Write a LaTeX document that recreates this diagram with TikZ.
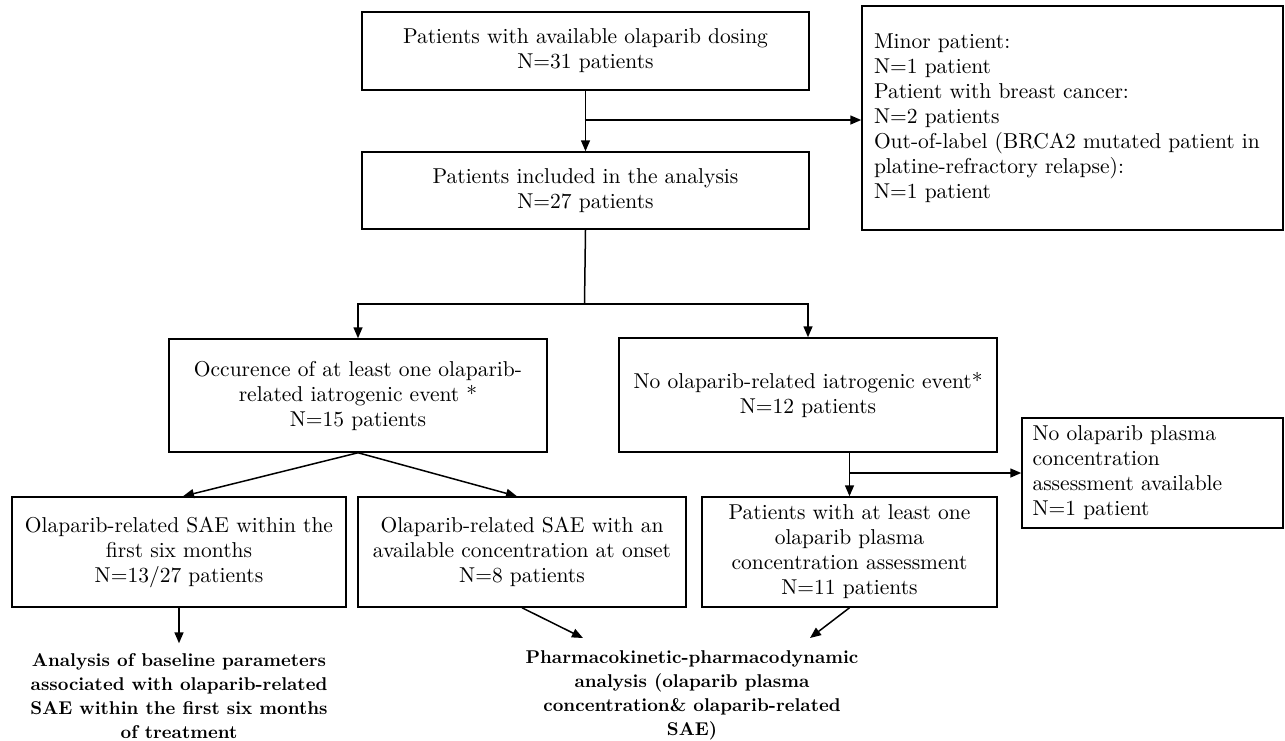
\documentclass[tikz,border=0pt]{standalone}
\usepackage{fontspec}
\setmainfont{lmroman10}[Extension=.otf, UprightFont=*-regular, BoldFont=*-bold, ItalicFont=*-italic, BoldItalicFont=*-bolditalic]
\usetikzlibrary{arrows.meta,calc}
\tikzset{
  box/.style={draw, line width=1.5pt, inner sep=0pt, align=center, font=\fontsize{21.5}{25}\selectfont},
  lbox/.style={box, align=left},
  conn/.style={line width=1.5pt, -{Triangle[length=11pt,width=9pt]}},
  res/.style={align=center, inner sep=0pt, font=\bfseries\fontsize{18.5}{24}\selectfont},
}
\begin{document}
\begin{tikzpicture}[x=1pt,y=-1pt]
\useasboundingbox (0,0) rectangle (1285,740);
% boxes
\node[box, minimum width=447pt, minimum height=78pt] (b1) at (585.5,51)
  {Patients with available olaparib dosing\\N=31 patients};
\node[box, minimum width=447pt, minimum height=77pt] (b2) at (585.5,190.5)
  {Patients included in the analysis\\N=27 patients};
\node[lbox, minimum width=421pt, minimum height=224pt, text width=397pt] (ex) at (1072.5,118)
  {Minor patient:\\N=1 patient\\Patient with breast cancer:\\N=2 patients\\Out-of-label (BRCA2 mutated patient in\\platine-refractory relapse):\\N=1 patient};
\node[box, minimum width=378pt, minimum height=113pt] (b3) at (358,395.5)
  {Occurence of at least one olaparib-\\related iatrogenic event *\\N=15 patients};
\node[box, minimum width=378pt, minimum height=114pt] (b4) at (808,395)
  {No olaparib-related iatrogenic event*\\N=12 patients};
\node[box, minimum width=334pt, minimum height=110pt] (b5) at (179,552)
  {Olaparib-related SAE within the\\first six months\\N=13/27 patients};
\node[box, minimum width=328pt, minimum height=110pt] (b6) at (522,552)
  {Olaparib-related SAE with an\\available concentration at onset\\N=8 patients};
\node[box, minimum width=295pt, minimum height=110pt] (b7) at (849.5,552)
  {Patients with at least one\\olaparib plasma\\concentration assessment\\N=11 patients};
\node[lbox, minimum width=261pt, minimum height=110pt, text width=240pt] (b8) at (1152.5,473)
  {No olaparib plasma\\concentration\\assessment available\\N=1 patient};
% result texts
\node[res] (t1) at (179,696)
  {Analysis of baseline parameters\\associated with olaparib-related\\SAE within the first six months\\of treatment};
\node[res] (t2) at (692,695)
  {Pharmacokinetic-pharmacodynamic\\analysis (olaparib plasma\\concentration\& olaparib-related\\SAE)};
% junctions
\coordinate (j1) at (584.5,120);
\coordinate (j2) at (584.5,304);
\coordinate (ta) at (583,638);
\coordinate (tb) at (810,638);
% connectors
\draw[conn] (b1.south) -- (b2.north);
\draw[conn] (j1) -- (j1 -| ex.west);
\draw[line width=1.5pt] (b2.south) -- (j2);
\draw[conn] (j2) -| (b3.north);
\draw[conn] (j2) -| (b4.north);
\draw[conn] (b3.south) -- ($(b5.north)+(4,0)$);
\draw[conn] (b3.south) -- ($(b6.north)+(-5,0)$);
\draw[conn] (b4.south -| b7.north) -- (b7.north);
\draw[conn] (b7.north |- b8.west) -- (b8.west);
\draw[conn, shorten >=10pt] (b5.south) -- (t1.north);
\draw[conn] (b6.south) -- (ta);
\draw[conn] (b7.south) -- (tb);
\end{tikzpicture}
\end{document}
